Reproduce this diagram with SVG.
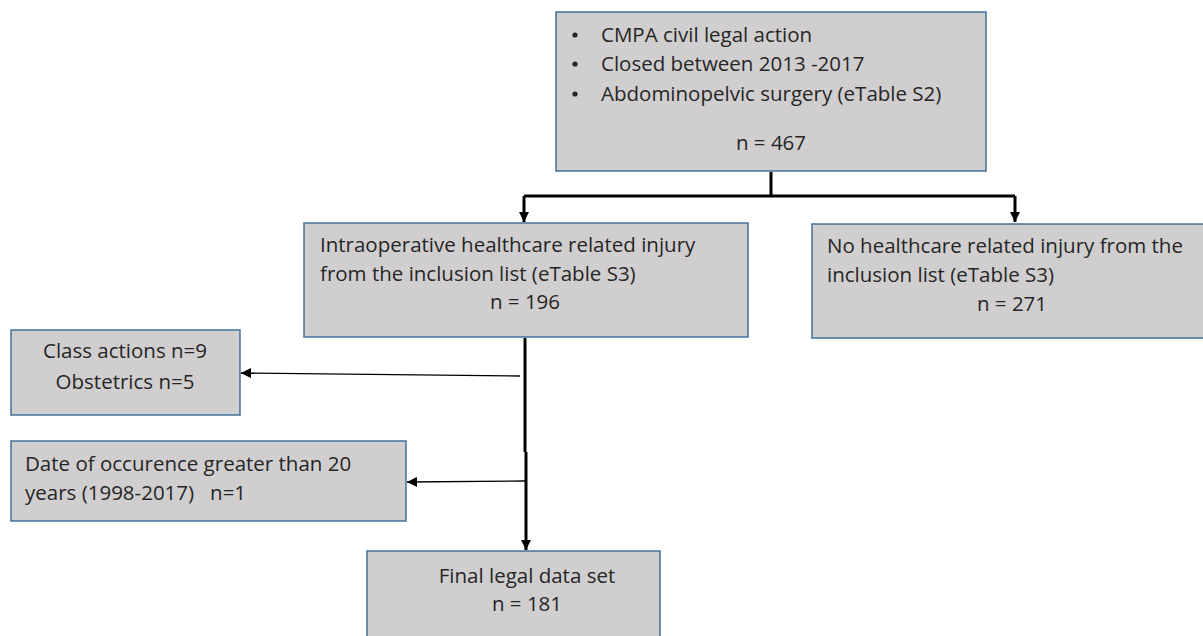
<svg xmlns="http://www.w3.org/2000/svg" width="1203" height="636" viewBox="0 0 1203 636">
<style>
.box{fill:#D0CECE;stroke:#41719C;stroke-width:1.5}
.t{font-family:"Open Sans","Liberation Sans",sans-serif;font-size:20.5px;fill:#262626}
.c{text-anchor:middle}
.thick{stroke:#000;stroke-width:3;fill:none}
.thin{stroke:#000;stroke-width:1.3;fill:none}
.dot{fill:#262626}
</style>
<defs>
<marker id="ah" viewBox="0 0 10 10" refX="10" refY="5" markerWidth="10" markerHeight="10" markerUnits="userSpaceOnUse" orient="auto">
<path d="M0,0 L10,5 L0,10 Z" fill="#000"/>
</marker>
<marker id="ah2" viewBox="0 0 10 10" refX="10" refY="5" markerWidth="12" markerHeight="10" markerUnits="userSpaceOnUse" orient="auto">
<path d="M0,0 L10,5 L0,10 Z" fill="#000"/>
</marker>
</defs>
<g id="connectors">
<path class="thick" d="M771,172 V196"/>
<path class="thick" d="M524,196 H1015"/>
<path class="thick" d="M524,196 V222" marker-end="url(#ah)"/>
<path class="thick" d="M1015,196 V222" marker-end="url(#ah)"/>
<path class="thick" d="M525,338 V452"/>
<path class="thick" d="M526,452 V550" marker-end="url(#ah)"/>
<path class="thin" d="M520,376 L241,373" marker-end="url(#ah2)"/>
<path class="thin" d="M525,481 L407,482" marker-end="url(#ah2)"/>
</g>
<g id="n-top">
<rect class="box" x="556" y="12" width="430" height="159"/>
<circle class="dot" cx="575" cy="35" r="2.6"/><text class="t" x="601" y="42">CMPA civil legal action</text>
<circle class="dot" cx="575" cy="64" r="2.6"/><text class="t" x="601" y="71">Closed between 2013 -2017</text>
<circle class="dot" cx="575" cy="94" r="2.6"/><text class="t" x="601" y="101">Abdominopelvic surgery (eTable S2)</text>
<text class="t c" x="771" y="150">n = 467</text>
</g>
<g id="n-injury">
<rect class="box" x="304" y="223" width="444" height="114"/>
<text class="t" x="320" y="252">Intraoperative healthcare related injury</text>
<text class="t" x="320" y="281">from the inclusion list (eTable S3)</text>
<text class="t c" x="525" y="309">n = 196</text>
</g>
<g id="n-noinjury">
<rect class="box" x="812" y="224" width="395" height="114"/>
<text class="t" x="827" y="253">No healthcare related injury from the</text>
<text class="t" x="827" y="282">inclusion list (eTable S3)</text>
<text class="t c" x="1012" y="311">n = 271</text>
</g>
<g id="n-class">
<rect class="box" x="11" y="330" width="229" height="85"/>
<text class="t c" x="125" y="358">Class actions n=9</text>
<text class="t c" x="125" y="389">Obstetrics n=5</text>
</g>
<g id="n-date">
<rect class="box" x="11" y="441" width="395" height="80"/>
<text class="t" x="25" y="471">Date of occurence greater than 20</text>
<text class="t" x="25" y="500" xml:space="preserve">years (1998-2017)   n=1</text>
</g>
<g id="n-final">
<rect class="box" x="367" y="551" width="293" height="90"/>
<text class="t c" x="527" y="583">Final legal data set</text>
<text class="t c" x="527" y="611">n = 181</text>
</g>
</svg>
